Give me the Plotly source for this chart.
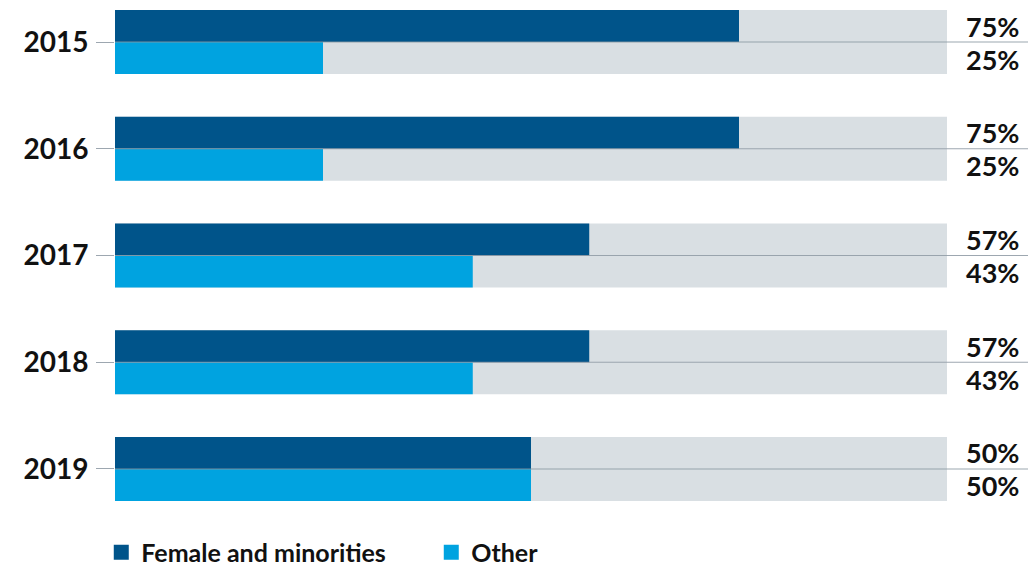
import plotly.graph_objects as go

years = ["2015", "2016", "2017", "2018", "2019"]
female_minorities = [75, 75, 57, 57, 50]
other = [25, 25, 43, 43, 50]
full = [100, 100, 100, 100, 100]

DARK = "#00548a"
LIGHT = "#00a3e0"
BG = "#d9dfe3"
LINE = "rgba(140,152,162,0.85)"
FONT = "Lato"
TXT = "#111111"

fig = go.Figure()
W = 0.3
bar_common = dict(orientation="h", width=W, marker_line_width=0)
# background tracks
fig.add_trace(go.Bar(y=years, x=full, marker_color=BG, offset=-W,
                     showlegend=False, hoverinfo="skip", **bar_common))
fig.add_trace(go.Bar(y=years, x=full, marker_color=BG, offset=0,
                     showlegend=False, hoverinfo="skip", **bar_common))
fig.add_trace(go.Bar(y=years, x=female_minorities, marker_color=DARK, offset=-W,
                     name="Female and minorities", showlegend=False, **bar_common))
fig.add_trace(go.Bar(y=years, x=other, marker_color=LIGHT, offset=0,
                     name="Other", showlegend=False, **bar_common))
# legend entries
fig.add_trace(go.Scatter(x=[None], y=[None], mode="markers", name="Female and minorities",
                         marker=dict(symbol="square", size=15, color=DARK)))
fig.add_trace(go.Scatter(x=[None], y=[None], mode="markers", name="Other",
                         marker=dict(symbol="square", size=15, color=LIGHT)))

for i, (yr, f, o) in enumerate(zip(years, female_minorities, other)):
    fig.add_shape(type="line", xref="paper", yref="y", x0=0, x1=1.2, y0=i, y1=i,
                  line=dict(color=LINE, width=1.2), layer="above")
    fig.add_annotation(x=1, xref="paper", y=i, yref="y", text=f"{f}%", showarrow=False,
                       xanchor="left", xshift=17, yshift=16,
                       font=dict(family=FONT, size=27, color=TXT, weight="bold"))
    fig.add_annotation(x=1, xref="paper", y=i, yref="y", text=f"{o}%", showarrow=False,
                       xanchor="left", xshift=17, yshift=-17,
                       font=dict(family=FONT, size=27, color=TXT, weight="bold"))

# page body has an 8px margin: size figure so it ends at the viewport edge
fig.update_layout(
    template="none",
    width=1028, height=560,
    margin=dict(l=107, r=89, t=2, b=67, autoexpand=False),
    barmode="overlay",
    plot_bgcolor="white", paper_bgcolor="white",
    font=dict(family=FONT, color=TXT),
    xaxis=dict(range=[0, 100], visible=False, fixedrange=True, showgrid=False),
    yaxis=dict(type="category", range=[4.3, -0.3], showgrid=False, zeroline=False,
               ticks="outside", ticklen=18, tickcolor=LINE, tickwidth=1.2,
               ticklabelstandoff=2,
               tickfont=dict(family=FONT, size=28, color=TXT, weight="bold"),
               showline=False, fixedrange=True),
    legend=dict(orientation="h", x=-0.0165, xanchor="left", y=-0.105, yanchor="middle",
                font=dict(family=FONT, size=25, color=TXT, weight="bold"),
                entrywidth=285, entrywidthmode="pixels", bgcolor="rgba(0,0,0,0)"),
    showlegend=True,
)

fig.write_html("out.html")
